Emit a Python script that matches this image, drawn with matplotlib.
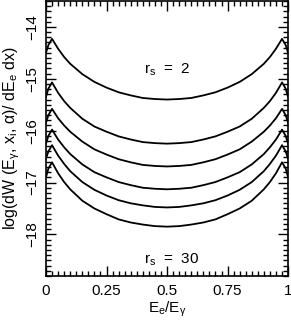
import matplotlib
matplotlib.use("Agg")
import matplotlib.pyplot as plt
from matplotlib.ticker import MultipleLocator

plt.rcParams["font.family"] = ["Liberation Sans", "DejaVu Sans"]
plt.rcParams["mathtext.fontset"] = "custom"
plt.rcParams["mathtext.rm"] = "Liberation Sans"
plt.rcParams["mathtext.it"] = "Liberation Sans"
plt.rcParams["mathtext.default"] = "rm"

# fraction of photon energy carried by the electron
x = [0, 0.01, 0.025, 0.05, 0.075, 0.1, 0.15, 0.2, 0.25, 0.3, 0.35, 0.4, 0.45, 0.5,
     0.55, 0.6, 0.65, 0.7, 0.75, 0.8, 0.85, 0.9, 0.925, 0.95, 0.975, 0.99, 1.0]

# log rate, top curve r_s = 2 down to bottom curve r_s = 30
curve_rs2 = [-14.50, -14.35, -14.23, -14.42, -14.58, -14.71, -14.91, -15.06, -15.17,
             -15.26, -15.32, -15.37, -15.39, -15.40, -15.39, -15.37, -15.32, -15.26,
             -15.17, -15.06, -14.91, -14.71, -14.58, -14.42, -14.23, -14.35, -14.50]
curve_2 = [-15.35, -15.19, -15.07, -15.27, -15.43, -15.56, -15.77, -15.92, -16.02,
           -16.11, -16.17, -16.22, -16.24, -16.25, -16.24, -16.22, -16.17, -16.11,
           -16.02, -15.92, -15.77, -15.56, -15.43, -15.27, -15.07, -15.19, -15.35]
curve_3 = [-15.85, -15.70, -15.58, -15.76, -15.90, -16.02, -16.21, -16.36, -16.46,
           -16.55, -16.61, -16.66, -16.68, -16.69, -16.68, -16.66, -16.61, -16.55,
           -16.46, -16.36, -16.21, -16.02, -15.90, -15.76, -15.58, -15.70, -15.85]
curve_4 = [-16.25, -16.10, -15.98, -16.17, -16.32, -16.45, -16.65, -16.80, -16.90,
           -16.99, -17.05, -17.10, -17.12, -17.13, -17.12, -17.10, -17.05, -16.99,
           -16.90, -16.80, -16.65, -16.45, -16.32, -16.17, -15.98, -16.10, -16.25]
curve_5 = [-16.54, -16.40, -16.28, -16.48, -16.64, -16.78, -16.99, -17.14, -17.25,
           -17.34, -17.40, -17.44, -17.47, -17.48, -17.47, -17.44, -17.40, -17.34,
           -17.25, -17.14, -16.99, -16.78, -16.64, -16.48, -16.28, -16.40, -16.54]
curve_rs30 = [-16.90, -16.73, -16.61, -16.82, -16.99, -17.13, -17.35, -17.50, -17.61,
              -17.71, -17.77, -17.81, -17.84, -17.85, -17.84, -17.81, -17.77, -17.71,
              -17.61, -17.50, -17.35, -17.13, -16.99, -16.82, -16.61, -16.73, -16.90]

curves = [curve_rs2, curve_2, curve_3, curve_4, curve_5, curve_rs30]

fig = plt.figure(figsize=(2.91, 3.25), dpi=100)
ax = fig.add_axes([0.158, 0.151, 0.832, 0.846])

for y in curves:
    ax.plot(x, y, color="black", lw=1.3)

ax.set_xlim(0, 1)
ax.set_ylim(-18.8, -13.5)

ax.xaxis.set_minor_locator(MultipleLocator(0.025))
ax.yaxis.set_minor_locator(MultipleLocator(0.1))
ax.set_xticks([0, 0.25, 0.5, 0.75, 1])
ax.set_xticklabels(["0", "0.25", "0.5", "0.75", "1"])
ax.set_yticks([-18, -17, -16, -15, -14])
ax.set_yticklabels(["\u221218", "\u221217", "\u221216", "\u221215", "\u221214"],
                   rotation=90, va="center")

ax.tick_params(which="both", direction="in", top=True, right=True, labelsize=11,
               width=1.0)
ax.tick_params(axis="x", pad=6)
ax.tick_params(axis="y", pad=5)
ax.tick_params(which="major", length=7)
ax.tick_params(which="minor", length=3.5)
for s in ax.spines.values():
    s.set_linewidth(1.2)

ax.text(0.5, -14.83, r"r$_s$  =  2", ha="center", va="center", fontsize=11)
ax.text(0.52, -18.48, r"r$_s$  =  30", ha="center", va="center", fontsize=11)

ax.set_xlabel(r"E$_e$/E$_\gamma$", fontsize=11, labelpad=1)
ax.set_ylabel(r"log(dW (E$_\gamma$, x$_i$, $\alpha$)/ dE$_e$ dx)", fontsize=11.5, labelpad=2)

fig.savefig("out.png", dpi=100)
